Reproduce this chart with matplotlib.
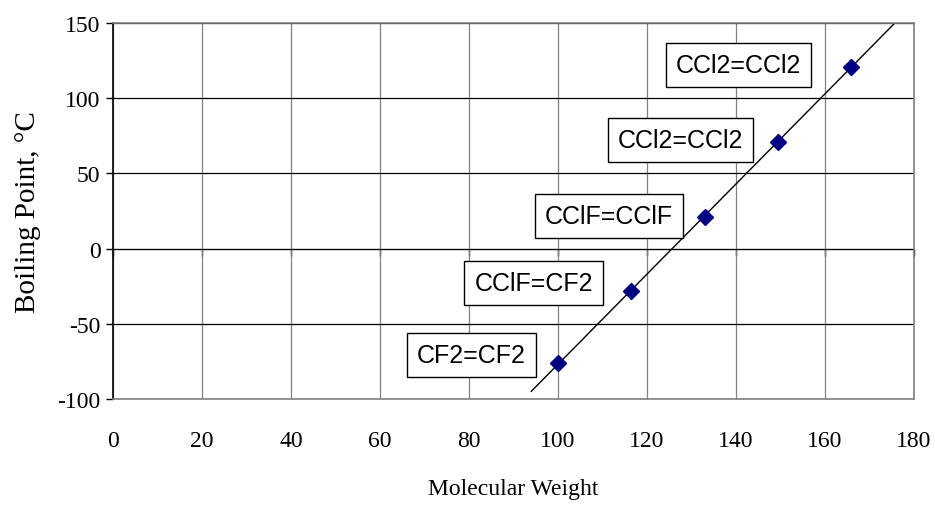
import numpy as np
import matplotlib.pyplot as plt
from matplotlib.ticker import NullFormatter

# boiling points of the fluoro/chloro ethylenes
mol_weight = [100.0, 116.5, 133.0, 149.4, 165.8]
boiling_pt = [-76, -28, 21, 71, 121]
names = ["CF2=CF2", "CClF=CF2", "CClF=CClF", "CCl2=CCl2", "CCl2=CCl2"]
# where each name box sits (data coords)
label_x = [80.5, 94.5, 111.5, 127.5, 140.5]
label_y = [-71, -23, 22, 72, 122]

x_ticks = list(range(0, 181, 20))
y_ticks = list(range(-100, 151, 50))

plt.rcParams['font.family'] = ['Liberation Serif', 'DejaVu Serif']
plt.rcParams['axes.unicode_minus'] = False

fig = plt.figure(figsize=(9.35, 5.06), dpi=100)
ax = fig.add_axes([0.1209, 0.2095, 0.8566, 0.7431])

ax.set_xlim(0, 180)
ax.set_ylim(-100, 150)
ax.set_xticks(x_ticks)
ax.set_yticks(y_ticks)

# grid: dark horizontals, grey verticals
ax.grid(axis='y', color='black', lw=0.9)
ax.grid(axis='x', color='#808080', lw=0.9)
ax.set_axisbelow(True)

for side in ['top', 'right', 'bottom']:
    ax.spines[side].set_color('#808080')
    ax.spines[side].set_linewidth(1.2)
ax.spines['left'].set_color('black')
ax.spines['left'].set_linewidth(1.2)

ax.tick_params(axis='x', length=0, pad=22, labelsize=17)
ax.tick_params(axis='y', length=5, width=1, pad=4, labelsize=17)

# x axis crosses at y = 0 with short ticks, no labels there
frac0 = (0 - (-100)) / 250
sec = ax.secondary_xaxis(frac0)
sec.set_xticks(x_ticks)
sec.xaxis.set_major_formatter(NullFormatter())
sec.tick_params(length=5, width=1, direction='out')
sec.spines['bottom'].set_color('black')

# linear trend through the points
k, b = np.polyfit(mol_weight, boiling_pt, 1)
xs = np.array([94.0, 175.5])
ax.plot(xs, k * xs + b, color='black', lw=1)

ax.plot(mol_weight, boiling_pt, linestyle='none', marker='D', markersize=8,
        color='#000080', zorder=5)

for nm, lx, ly in zip(names, label_x, label_y):
    ax.text(lx, ly, nm, family=['Liberation Sans', 'DejaVu Sans'], fontsize=18,
            ha='center', va='center',
            bbox=dict(boxstyle='square,pad=0.4', fc='white', ec='black', lw=1))

ax.set_ylabel("Boiling Point, °C", fontsize=21, labelpad=12)
ax.set_xlabel("Molecular Weight", fontsize=17, labelpad=20)

fig.savefig("out.png", dpi=100)
